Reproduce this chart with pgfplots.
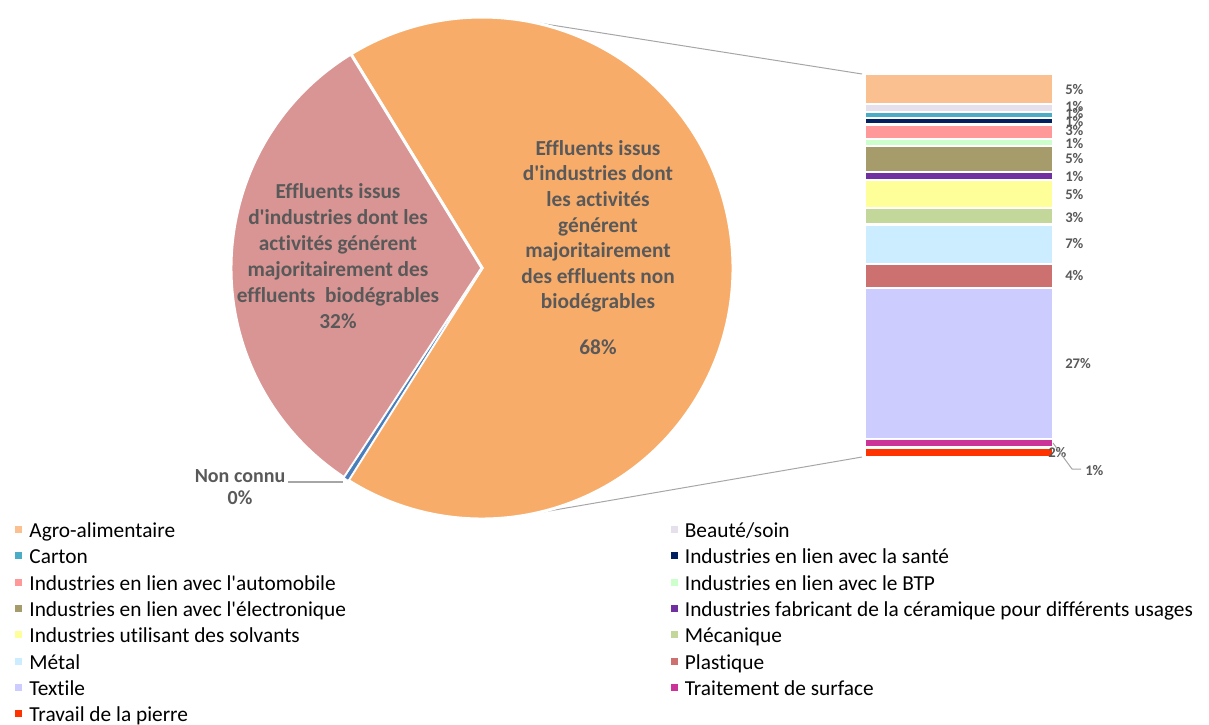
\documentclass[border=0pt]{standalone}
\usepackage{fontspec}
\setmainfont{Carlito}[Ligatures=NoCommon]
\usepackage{pgfplots}
\pgfplotsset{compat=1.18}
\definecolor{orangec}{HTML}{F8AC6A}
\definecolor{pinkc}{HTML}{D99594}
\definecolor{bluec}{HTML}{4A7EBB}
\definecolor{cAgro}{HTML}{FAC090}
\definecolor{cBeaute}{HTML}{E6E0EC}
\definecolor{cCarton}{HTML}{4BACC6}
\definecolor{cSante}{HTML}{002060}
\definecolor{cAuto}{HTML}{FF9999}
\definecolor{cBTP}{HTML}{CCFFCC}
\definecolor{cElec}{HTML}{A69B6A}
\definecolor{cCeram}{HTML}{7030A0}
\definecolor{cSolv}{HTML}{FFFF99}
\definecolor{cMeca}{HTML}{C4D79B}
\definecolor{cMetal}{HTML}{CCECFF}
\definecolor{cPlast}{HTML}{CC7070}
\definecolor{cTextile}{HTML}{CCCCFF}
\definecolor{cTrait}{HTML}{CC3399}
\definecolor{cPierre}{HTML}{FF3300}
\definecolor{labelc}{HTML}{595959}
\definecolor{linec}{HTML}{A6A6A6}
\newcommand{\ap}{\textquotesingle{}}
\begin{document}
\begin{tikzpicture}
\useasboundingbox (0,0) rectangle (906.75pt,-543pt);
% connector lines (behind the pie)
\begin{scope}[x=0.75pt,y=-0.75pt]
\draw[linec, line width=0.75pt] (526,21) -- (862,74);
\draw[linec, line width=0.75pt] (543,512) -- (862,457);
\end{scope}
% pie values (percent): biodegradable, non connu, non biodegradable
\pgfmathsetmacro{\vPink}{32.0}
\pgfmathsetmacro{\vBlue}{0.3}
\pgfmathsetmacro{\vOrange}{67.7}
\pgfmathsetmacro{\aA}{121.5}
\pgfmathsetmacro{\aB}{\aA+3.6*\vPink}
\pgfmathsetmacro{\aC}{\aB+3.6*\vBlue}
\pgfmathsetmacro{\aD}{\aC+3.6*\vOrange}
\begin{axis}[at={(361.5pt,-201pt)}, anchor=center, width=376.5pt, height=376.5pt,
  scale only axis, xmin=-1, xmax=1, ymin=-1, ymax=1, hide axis, clip=false]
\fill[orangec, draw=white, line width=2.25pt] (axis cs:0,0) -- (axis cs:{cos(\aC)},{sin(\aC)}) arc[start angle=\aC, end angle=\aD, radius=188.25pt] -- cycle;
\fill[pinkc, draw=white, line width=2.25pt] (axis cs:0,0) -- (axis cs:{cos(\aA)},{sin(\aA)}) arc[start angle=\aA, end angle=\aB, radius=188.25pt] -- cycle;
\fill[bluec, draw=white, line width=0.6pt] (axis cs:0,0) -- (axis cs:{cos(\aB)},{sin(\aB)}) arc[start angle=\aB, end angle=\aC, radius=188.25pt] -- cycle;
\end{axis}
\begin{axis}[at={(648.75pt,-342.75pt)}, anchor=south west, width=141pt, height=287.25pt,
  scale only axis, xmin=-0.5, xmax=0.5, ymin=0, ymax=68.2, hide axis, clip=false,
  ybar stacked, bar width=1, bar shift=0pt,
  legend image code/.code={\fill[#1] (0pt,-1.5pt) rectangle (7pt,5.5pt);},
  reverse legend, legend columns=2, legend cell align=left,
  legend style={at={(-4.5319,-0.1684)}, anchor=north west, draw=none, fill=none,
    inner sep=0pt, outer sep=0pt, column sep=3.75pt, row sep=3.75pt,
    font=\fontsize{16}{19}\selectfont,
    nodes={inner sep=0pt, text height=12pt, text depth=4pt}},
  every axis plot/.append style={draw=white, line width=1.6pt}]
\addplot[fill=cPierre] coordinates {(0,1.7)};
\addlegendentry{\makebox[475.5pt][l]{Travail de la pierre}}
\addplot[fill=cTrait] coordinates {(0,1.5)};
\addlegendentry{Traitement de surface}
\addplot[fill=cTextile] coordinates {(0,26.9)};
\addlegendentry{\makebox[475.5pt][l]{Textile}}
\addplot[fill=cPlast] coordinates {(0,4.2)};
\addlegendentry{Plastique}
\addplot[fill=cMetal] coordinates {(0,7.1)};
\addlegendentry{\makebox[475.5pt][l]{Métal}}
\addplot[fill=cMeca] coordinates {(0,2.9)};
\addlegendentry{Mécanique}
\addplot[fill=cSolv] coordinates {(0,5.0)};
\addlegendentry{\makebox[475.5pt][l]{Industries utilisant des solvants}}
\addplot[fill=cCeram] coordinates {(0,1.4)};
\addlegendentry{Industries fabricant de la céramique pour différents usages}
\addplot[fill=cElec] coordinates {(0,4.7)};
\addlegendentry{\makebox[475.5pt][l]{Industries en lien avec l\ap électronique}}
\addplot[fill=cBTP] coordinates {(0,1.2)};
\addlegendentry{Industries en lien avec le BTP}
\addplot[fill=cAuto] coordinates {(0,2.6)};
\addlegendentry{\makebox[475.5pt][l]{Industries en lien avec l\ap automobile}}
\addplot[fill=cSante] coordinates {(0,1.1)};
\addlegendentry{Industries en lien avec la santé}
\addplot[fill=cCarton] coordinates {(0,1.1)};
\addlegendentry{\makebox[475.5pt][l]{Carton}}
\addplot[fill=cBeaute] coordinates {(0,1.5)};
\addlegendentry{Beauté/soin}
\addplot[fill=cAgro] coordinates {(0,5.3)};
\addlegendentry{\makebox[475.5pt][l]{Agro-alimentaire}}
\end{axis}
% labels
\begin{scope}[x=0.75pt,y=-0.75pt, every node/.style={text=labelc, inner sep=0pt}]
\node[align=center, font=\bfseries\fontsize{16}{19.5}\selectfont] at (338,256.5)
  {Effluents issus\\d\ap industries dont les\\activités générent\\majoritairement des\\effluents\ \ biodégrables\\32\%};
\node[align=center, font=\bfseries\fontsize{16}{19.2}\selectfont] at (598,247.5)
  {Effluents issus\\d\ap industries dont\\les activités\\générent\\majoritairement\\des effluents non\\biodégrables\\[15pt]68\%};
\node[align=center, font=\bfseries\fontsize{15}{16.5}\selectfont] at (240,487) {Non connu\\0\%};
\draw[linec, line width=0.9pt] (288,482) -- (343,482);
\begin{scope}[every node/.append style={anchor=west, font=\bfseries\fontsize{11}{13}\selectfont}]
\node at (1065,90) {5\%};
\node at (1065,107) {1\%};
\node at (1065,114) {1\%};
\node at (1065,121.5) {1\%};
\node at (1065,131) {3\%};
\node at (1065,143.5) {1\%};
\node at (1065,159) {5\%};
\node at (1065,176.5) {1\%};
\node at (1065,195) {5\%};
\node at (1065,217.5) {3\%};
\node at (1065,244) {7\%};
\node at (1065,276) {4\%};
\node at (1065,364) {27\%};
\node at (1048,452) {2\%};
\node at (1085,470.5) {1\%};
\end{scope}
\draw[linec, line width=0.75pt] (1053,443) -- (1072,469) -- (1081,469);
\end{scope}
\end{tikzpicture}
\end{document}
